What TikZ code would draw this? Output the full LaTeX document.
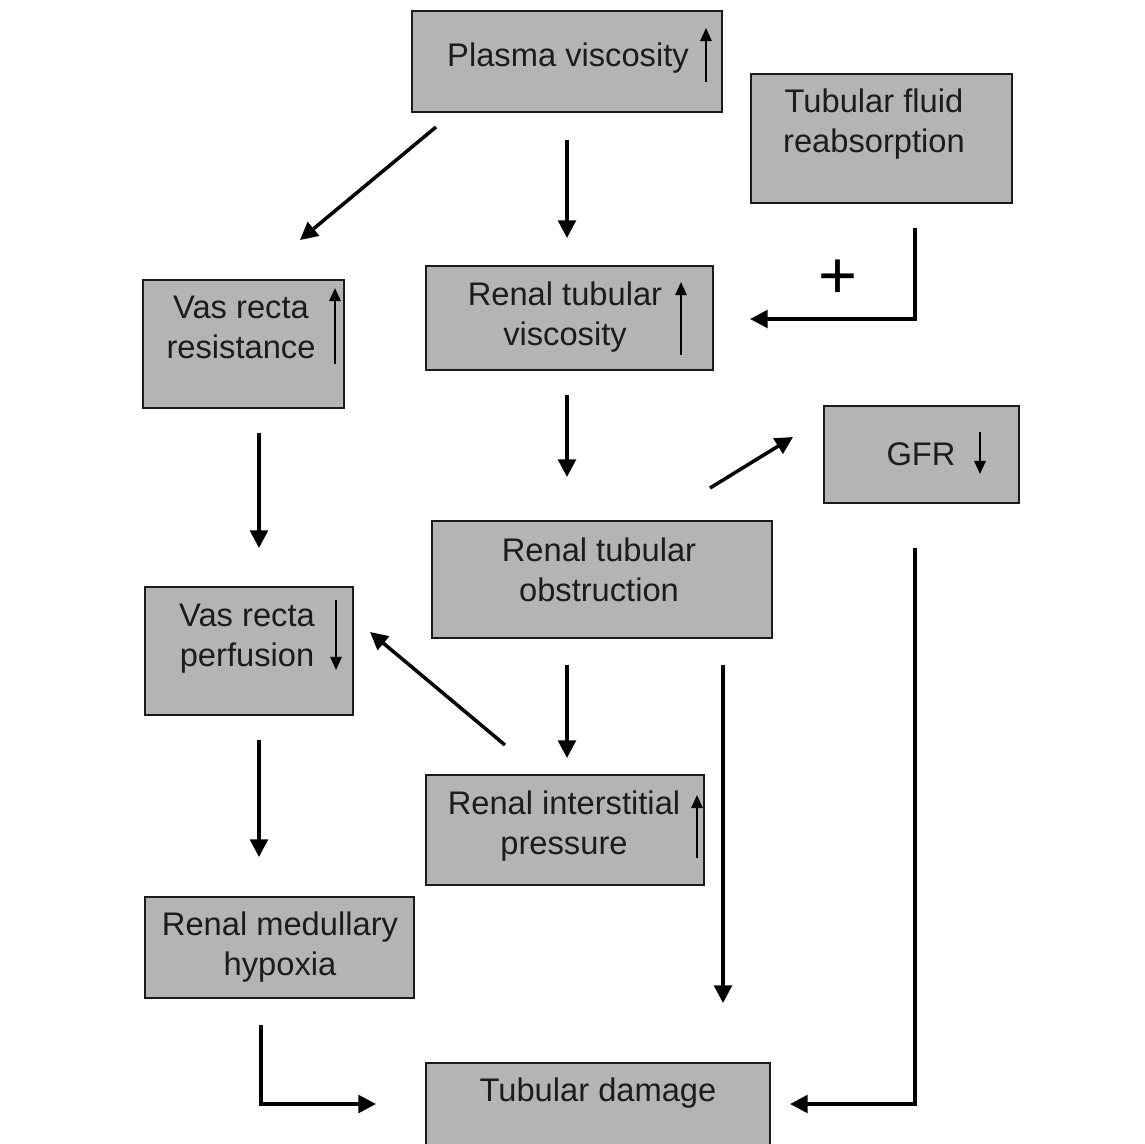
\documentclass[tikz,border=0pt]{standalone}
\usepackage{fontspec}
\setmainfont{Liberation Sans}
\usetikzlibrary{arrows.meta,fit}
\definecolor{boxgray}{RGB}{180,180,180}
\definecolor{ink}{RGB}{28,28,28}
\begin{document}
\begin{tikzpicture}[x=0.02cm,y=-0.02cm,
  box/.style={draw=ink, line width=1.1pt, fill=boxgray, inner sep=0pt},
  lbl/.style={font=\fontsize{18.6}{22.8}\selectfont, align=center, text=ink, inner sep=0pt},
  flow/.style={draw=black, line width=2pt, -{Triangle[length=10pt,width=10pt]}},
  mini/.style={draw=black, line width=1.2pt, -{Triangle[length=7.5pt,width=6.5pt]}}]
\useasboundingbox (0,0) rectangle (1145,1143);
\fill[white] (0,0) rectangle (1145,1143);

% boxes
\node[box, fit={(412,11) (722,112)}] (pv) {};
\node[box, fit={(751,74) (1012,203)}] (tfr) {};
\node[box, fit={(143,280) (344,408)}] (vrr) {};
\node[box, fit={(426,266) (713,370)}] (rtv) {};
\node[box, fit={(824,406) (1019,503)}] (gfr) {};
\node[box, fit={(432,521) (772,638)}] (rto) {};
\node[box, fit={(145,587) (353,715)}] (vrp) {};
\node[box, fit={(426,775) (704,885)}] (rip) {};
\node[box, fit={(145,897) (414,998)}] (rmh) {};
\node[box, fit={(426,1063) (770,1160)}] (td) {};

% labels
\node[lbl] (pvt) at (568,58) {Plasma viscosity};
\node[lbl] (tfrt) at (874,124) {Tubular fluid\\reabsorption};
\node[lbl] (vrrt) at (241,327) {Vas recta\\resistance};
\node[lbl] (rtvt) at (565,317) {Renal tubular\\viscosity};
\node[lbl] (gfrt) at (921,454) {GFR};
\node[lbl] (rtot) at (599,570) {Renal tubular\\obstruction};
\node[lbl] (vrpt) at (247,639) {Vas recta\\perfusion};
\node[lbl] (ript) at (564,826) {Renal interstitial\\pressure};
\node[lbl] (rmht) at (280,947) {Renal medullary\\hypoxia};
\node[lbl] (tdt) at (598,1093) {Tubular damage};
\node[text=black, inner sep=0pt, font=\fontsize{38}{38}\selectfont] (plus) at (838,279) {+};

% small arrows inside boxes
\coordinate (m1s) at (706,82);  \coordinate (m1e) at (706,28);
\coordinate (m2s) at (335,364); \coordinate (m2e) at (335,288);
\coordinate (m3s) at (681,355); \coordinate (m3e) at (681,282);
\coordinate (m4s) at (980,432); \coordinate (m4e) at (980,474);
\coordinate (m5s) at (336,600); \coordinate (m5e) at (336,670);
\coordinate (m6s) at (697,858); \coordinate (m6e) at (697,795);
\draw[mini] (m1s) -- (m1e);
\draw[mini] (m2s) -- (m2e);
\draw[mini] (m3s) -- (m3e);
\draw[mini] (m4s) -- (m4e);
\draw[mini] (m5s) -- (m5e);
\draw[mini] (m6s) -- (m6e);

% connector end points
\coordinate (a1s) at (436,127);  \coordinate (a1e) at (300,240);
\coordinate (a2s) at (567,140);  \coordinate (a2e) at (567,238);
\coordinate (a3s) at (915,228);  \coordinate (a3e) at (750,319);
\coordinate (a4s) at (259,433);  \coordinate (a4e) at (259,548);
\coordinate (a5s) at (567,395);  \coordinate (a5e) at (567,477);
\coordinate (a6s) at (710,488);  \coordinate (a6e) at (793,437);
\coordinate (a7s) at (567,665);  \coordinate (a7e) at (567,758);
\coordinate (a8s) at (505,745);  \coordinate (a8e) at (370,632);
\coordinate (a9s) at (723,665);  \coordinate (a9e) at (723,1003);
\coordinate (a10s) at (915,548); \coordinate (a10e) at (790,1104);
\coordinate (a11s) at (259,740); \coordinate (a11e) at (259,857);
\coordinate (a12s) at (261,1025);\coordinate (a12e) at (376,1104);

\draw[flow] (a1s) -- (a1e);
\draw[flow] (a2s) -- (a2e);
\draw[flow] (a3s) |- (a3e);
\draw[flow] (a4s) -- (a4e);
\draw[flow] (a5s) -- (a5e);
\draw[flow] (a6s) -- (a6e);
\draw[flow] (a7s) -- (a7e);
\draw[flow] (a8s) -- (a8e);
\draw[flow] (a9s) -- (a9e);
\draw[flow] (a10s) |- (a10e);
\draw[flow] (a11s) -- (a11e);
\draw[flow] (a12s) |- (a12e);
\end{tikzpicture}
\end{document}
